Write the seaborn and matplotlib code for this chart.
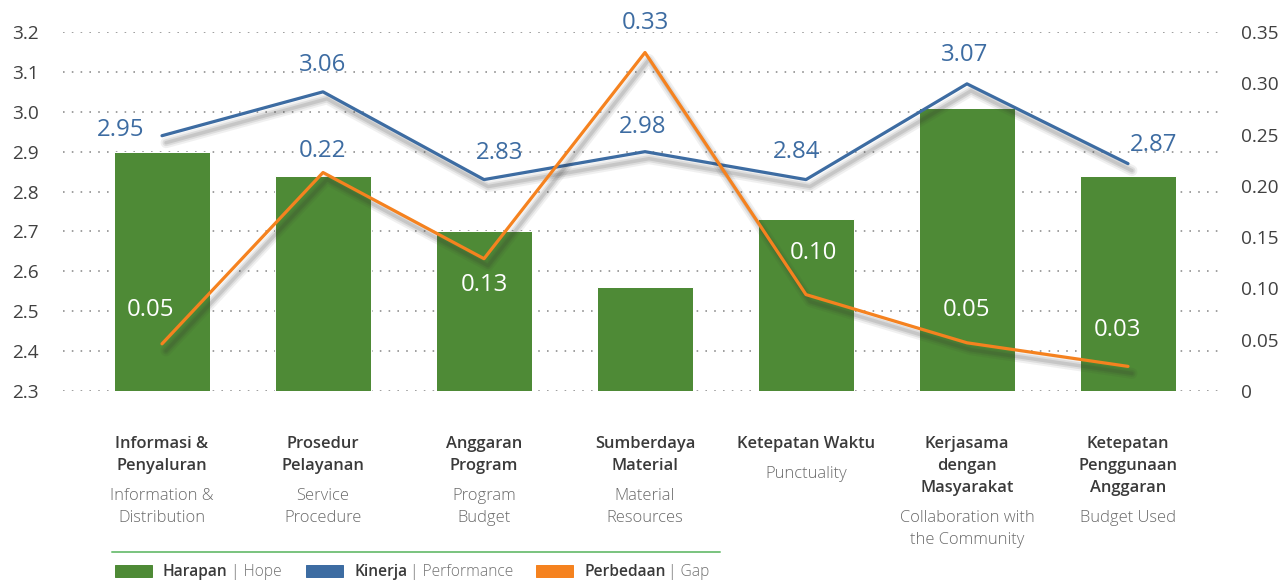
import numpy as np
import pandas as pd
import seaborn as sns
import matplotlib
matplotlib.use("Agg")
import matplotlib.pyplot as plt
import matplotlib.patheffects as pe
from matplotlib.patches import Rectangle
from matplotlib.lines import Line2D

# ---------------- data ----------------
categories_id = [["Informasi &", "Penyaluran"], ["Prosedur", "Pelayanan"], ["Anggaran", "Program"],
                 ["Sumberdaya", "Material"], ["Ketepatan Waktu"], ["Kerjasama", "dengan", "Masyarakat"],
                 ["Ketepatan", "Penggunaan", "Anggaran"]]
categories_en = [["Information &", "Distribution"], ["Service", "Procedure"], ["Program", "Budget"],
                 ["Material", "Resources"], ["Punctuality"], ["Collaboration with", "the Community"],
                 ["Budget Used"]]
hope = [2.90, 2.84, 2.70, 2.56, 2.73, 3.01, 2.84]
performance = [2.94, 3.05, 2.83, 2.90, 2.83, 3.07, 2.87]
performance_labels = ["2.95", "3.06", "2.83", "2.98", "2.84", "3.07", "2.87"]
gap = [0.046, 0.213, 0.129, 0.330, 0.094, 0.047, 0.024]
gap_labels = ["0.05", "0.22", "0.13", "0.33", "0.10", "0.05", "0.03"]
left_ticks = [2.3, 2.4, 2.5, 2.6, 2.7, 2.8, 2.9, 3.0, 3.1, 3.2]
right_ticks = [0, 0.05, 0.10, 0.15, 0.20, 0.25, 0.30, 0.35]
right_tick_labels = ["0", "0.05", "0.10", "0.15", "0.20", "0.25", "0.30", "0.35"]
legend_bold = ["Harapan", "Kinerja", "Perbedaan"]
legend_light = ["Hope", "Performance", "Gap"]

# ---------------- styling ----------------
GREEN = "#4e8a36"
BLUE = "#3d6ca2"
ORANGE = "#f5821f"
W, H = 1286, 582
DPI = 72

sns.set_theme(style="white")
plt.rcParams["font.family"] = ["Open Sans", "DejaVu Sans"]

fig = plt.figure(figsize=(W / DPI, H / DPI), dpi=DPI)
ax = fig.add_axes([63 / W, 1 - 391 / H, (1222 - 63) / W, (391 - 32) / H])
ax2 = ax.twinx()

idx = np.arange(len(hope))
df = pd.DataFrame({"idx": idx, "hope": hope, "perf": performance, "gap": gap})

sns.barplot(data=df, x="idx", y="hope", ax=ax, color=GREEN, saturation=1, width=0.596, zorder=2)

shadow = [pe.SimpleLineShadow(offset=(4, -7), shadow_color="#333333", alpha=0.07, linewidth=11),
          pe.SimpleLineShadow(offset=(4, -7), shadow_color="#333333", alpha=0.10, linewidth=7),
          pe.SimpleLineShadow(offset=(4, -7), shadow_color="#333333", alpha=0.13, linewidth=3.5),
          pe.Normal()]
sns.lineplot(data=df, x="idx", y="perf", ax=ax, color=BLUE, linewidth=3.2, zorder=3,
             path_effects=shadow)
sns.lineplot(data=df, x="idx", y="gap", ax=ax2, color=ORANGE, linewidth=3.2, zorder=3,
             path_effects=shadow)
for l in ax.lines + ax2.lines:
    l.set_solid_joinstyle("round")

ax.set_xlim(-0.615, 6.584)
ax.set_ylim(2.3, 3.2)
ax2.set_ylim(0, 0.35)

ax.set_yticks(left_ticks)
ax.set_yticklabels([f"{t:.1f}" for t in left_ticks])
ax2.set_yticks(right_ticks)
ax2.set_yticklabels(right_tick_labels)
ax.tick_params(axis="y", length=0, pad=24, labelsize=19, labelcolor="#404040")
ax2.tick_params(axis="y", length=0, pad=19, labelsize=19, labelcolor="#404040")
ax.set_xticks([])
ax.set_xlabel("")
ax.set_ylabel("")
ax2.set_ylabel("")
for a in (ax, ax2):
    for s in a.spines.values():
        s.set_visible(False)

ax.yaxis.grid(True, color="#8a8a8a", linestyle=(0, (1, 4.5)), linewidth=1.6, zorder=0)
ax.set_axisbelow(True)
ax.xaxis.grid(False)
ax2.grid(False)

# ---------------- value labels ----------------
perf_offsets = [(-41, 6), (0, 27), (16, 27), (-2, 25), (-9, 28), (-2, 29), (26, 19)]
for i, (v, lab) in enumerate(zip(performance, performance_labels)):
    ax.annotate(lab, (i, v), xytext=perf_offsets[i], textcoords="offset points",
                ha="center", va="center", fontsize=24, color=BLUE, zorder=5)

gap_offsets = [(-12, 34), (-1, 22), (0, -26), (0, 30), (7, 42), (0, 33), (-11, 36)]
gap_colors = ["white", BLUE, "white", BLUE, "white", "white", "white"]
for i, (v, lab) in enumerate(zip(gap, gap_labels)):
    ax2.annotate(lab, (i, v), xytext=gap_offsets[i], textcoords="offset points",
                 ha="center", va="center", fontsize=24, color=gap_colors[i], zorder=5)

# ---------------- category labels ----------------
trans = ax.get_xaxis_transform()
for i in range(len(categories_id)):
    y = -53  # first line centre relative to axes bottom (px)
    for line in categories_id[i]:
        ax.annotate(line, (i, 0), xycoords=trans, xytext=(0, y), textcoords="offset points",
                    ha="center", va="center", fontsize=16.5, color="#3a3a3a", fontweight="semibold",
                    annotation_clip=False)
        y -= 22
    y -= 8
    for line in categories_en[i]:
        ax.annotate(line, (i, 0), xycoords=trans, xytext=(0, y), textcoords="offset points",
                    ha="center", va="center", fontsize=16.5, color="#6a6a6a", fontweight="light",
                    annotation_clip=False)
        y -= 22

# ---------------- legend ----------------
fig.add_artist(Line2D([112 / W, 720 / W], [1 - 552 / H] * 2, color="#7cc481", linewidth=2))
legend_x = [115, 306, 536]
legend_colors = [GREEN, BLUE, ORANGE]
fig.canvas.draw()
renderer = fig.canvas.get_renderer()
for x0, c, b, lt in zip(legend_x, legend_colors, legend_bold, legend_light):
    fig.add_artist(Rectangle((x0 / W, 1 - 577 / H), 37 / W, 12 / H, color=c, transform=fig.transFigure))
    tb = fig.text((x0 + 48) / W, 1 - 572 / H, b, ha="left", va="center", fontsize=15.5,
                  color="#3a3a3a", fontweight="semibold")
    bb = tb.get_window_extent(renderer)
    fig.text((bb.x1 + 3) / W, 1 - 572 / H, "| " + lt, ha="left", va="center", fontsize=15.5,
             color="#707070", fontweight="light")

fig.savefig("out.png", dpi=DPI)
